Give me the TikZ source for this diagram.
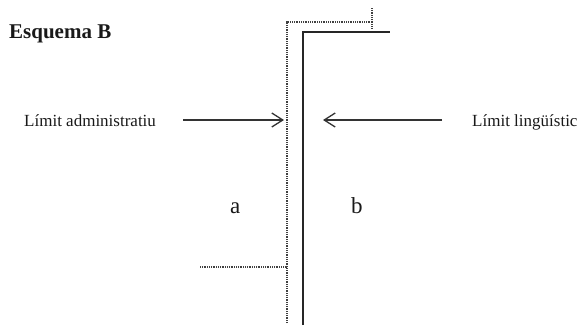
\documentclass[tikz,border=0pt]{standalone}
\usepackage{fontspec}
\setmainfont{Liberation Serif}
\usetikzlibrary{arrows.meta}
\begin{document}
\begin{tikzpicture}[x=1pt,y=-1pt,
  lbl/.style={inner sep=0pt,anchor=base west,font=\fontsize{17}{19}\selectfont,text=black!90},
  big/.style={inner sep=0pt,anchor=base west,font=\fontsize{23}{25}\selectfont,text=black!90},
  dotln/.style={draw=black!75,line width=1.8pt,dash pattern=on 1pt off 0.8pt},
  solidln/.style={draw=black!85,line width=2.6pt},
  arr/.style={draw=black!80,line width=1.3pt,-{Straight Barb[length=11pt,width=14pt,line width=1.3pt]}}]
\useasboundingbox (0,0) rectangle (580,325);
% title
\node[inner sep=0pt,anchor=base west,font=\bfseries\fontsize{21}{23}\selectfont,text=black!90] (esq) at (9,38) {Esquema B};
% labels
\node[lbl] (la) at (24,126) {Límit administratiu};
\node[lbl] (ll) at (472,126) {Límit lingüístic};
\node[big] (a) at (230,213) {a};
\node[big] (b) at (351,213) {b};
% dotted boundary
\coordinate (d1) at (287,323);
\coordinate (d2) at (287,22);
\coordinate (d3) at (372,22);
\coordinate (t1) at (372,8);
\coordinate (t2) at (372,28);
\coordinate (h1) at (200,267);
\coordinate (h2) at (287,267);
\draw[dotln] (d1) -- (d2) -- (d3);
\draw[dotln] (t1) -- (t2);
\draw[dotln] (h1) -- (h2);
% solid boundary
\coordinate (s1) at (303,325);
\coordinate (s2) at (303,32);
\coordinate (s3) at (390,32);
\draw[solidln] (s1) -- (s2) -- (s3);
% arrows
\coordinate (as) at (183,120);
\coordinate (ae) at (284,120);
\coordinate (bs) at (442,120);
\coordinate (be) at (323,120);
\draw[arr] (as) -- (ae);
\draw[arr] (bs) -- (be);
\end{tikzpicture}
\end{document}
